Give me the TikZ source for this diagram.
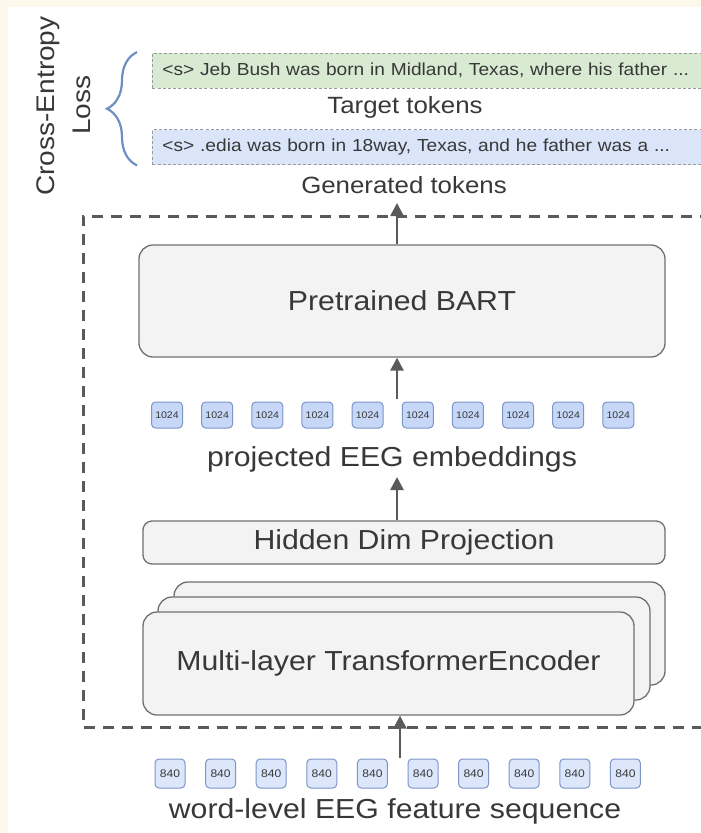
\documentclass[tikz,border=0pt]{standalone}
\usepackage{fontspec}
\setmainfont{Liberation Sans}[FakeStretch=1.1]
\usetikzlibrary{arrows.meta,decorations.pathreplacing}
\definecolor{cream}{HTML}{FEF8EC}
\definecolor{txt}{HTML}{383838}
\definecolor{boxfill}{HTML}{F3F3F3}
\definecolor{boxline}{HTML}{707070}
\definecolor{dashc}{HTML}{5A5A5A}
\definecolor{greenfill}{HTML}{D9EAD3}
\definecolor{bluefill}{HTML}{DAE5FA}
\definecolor{chipA}{HTML}{C6D7F7}
\definecolor{chipB}{HTML}{DCE7FC}
\definecolor{chipline}{HTML}{7D95C8}
\definecolor{bracec}{HTML}{6F8FC2}
\definecolor{stripline}{HTML}{9A9A9A}
\tikzset{
  block/.style={draw=boxline, fill=boxfill, line width=1.3pt, rounded corners=14pt, inner sep=0pt, text=txt},
  bigfont/.style={font=\fontsize{27.5}{32}\selectfont},
  bigtext/.style={text=txt, bigfont, inner sep=0pt},
  midtext/.style={text=txt, font=\fontsize{23.5}{28}\selectfont, inner sep=0pt},
  strip/.style={draw=stripline, line width=0.9pt, dash pattern=on 3pt off 2.2pt, anchor=west,
     minimum height=35pt, text width=560pt, align=left, inner xsep=10pt, inner ysep=0pt,
     text=txt, font=\fontsize{17.4}{20}\selectfont},
  chipbig/.style={draw=chipline, fill=chipA, line width=1pt, rounded corners=4pt,
     minimum width=31pt, minimum height=26pt, inner sep=0pt, text=txt, font=\fontsize{9.6}{11}\selectfont},
  chipsmall/.style={draw=chipline, fill=chipB, line width=1pt, rounded corners=4pt,
     minimum width=30pt, minimum height=29pt, inner sep=0pt, text=txt, font=\fontsize{11}{13}\selectfont},
  arr/.style={draw=dashc, line width=2.6pt, -{Triangle[length=13pt,width=13pt]}},
  rottext/.style={rotate=90, text=txt, font=\fontsize{25.5}{30}\selectfont, inner sep=0pt},
}
\begin{document}
\begin{tikzpicture}[x=1pt,y=-1pt]
\useasboundingbox (0,0) rectangle (701,833);
\clip (0,0) rectangle (701,833);
\fill[cream] (0,0) rectangle (701,833);
\fill[white] (8,7) rectangle (701,833);

% loss label
\node[rottext] (ce) at (48,106) {Cross-Entropy};
\node[rottext] (loss) at (82,105) {Loss};

% token strips
\node[strip, fill=greenfill] (tgtstrip) at (152,70.5) {<s> Jeb Bush was born in Midland, Texas, where his father ...};
\node[midtext] (tgt) at (405,107) {Target tokens};
\node[strip, fill=bluefill] (genstrip) at (152,147) {<s> .edia was born in 18way, Texas, and he father was a ...};
\node[midtext] (gen) at (404,185) {Generated tokens};

% brace
\draw[bracec, line width=2.2pt, decorate, decoration={brace, amplitude=30pt, aspect=0.5}]
  ([xshift=-15pt,yshift=-0.5pt]genstrip.south west) -- ([xshift=-15pt,yshift=0.5pt]tgtstrip.north west);

% dashed container
\draw[dashc, line width=3pt, dash pattern=on 11pt off 8pt] (730,216) -- (83,216) -- (83,727) -- (730,727);

% BART
\node[block, bigfont, minimum width=526pt, minimum height=112pt] (bart) at (402,301) {Pretrained BART};
\coordinate (gentip) at (397,203);
\draw[arr] (bart.north -| gentip) -- (gentip);

% projected embeddings
\foreach \i in {1,...,10} {
  \node[chipbig] (e\i) at ({167+50.15*(\i-1)},415) {1024};
}
\node[bigtext] (proj) at (392,459) {projected EEG embeddings};
\coordinate (ptop) at (397,399);
\draw[arr] (ptop) -- (bart.south -| ptop);

% hidden dim projection
\node[block, bigfont, rounded corners=9pt, minimum width=522pt, minimum height=43pt] (hid) at (404,542.5) {Hidden Dim Projection};
\coordinate (projtip) at (397,477);
\draw[arr] (hid.north -| projtip) -- (projtip);

% encoder stack
\node[block, minimum width=491pt, minimum height=103pt] (enc3) at (419.5,633.5) {};
\node[block, minimum width=492pt, minimum height=103pt] (enc2) at (404,648.5) {};
\node[block, bigfont, minimum width=491pt, minimum height=103pt] (enc1) at (388.5,663.5) {Multi-layer TransformerEncoder};

% word-level features
\foreach \i in {1,...,10} {
  \node[chipsmall] (f\i) at ({170+50.6*(\i-1)},773.5) {840};
}
\node[bigtext] (word) at (395,811) {word-level EEG feature sequence};
\coordinate (wtop) at (400,758);
\draw[arr] (wtop) -- (enc1.south -| wtop);
\end{tikzpicture}
\end{document}
